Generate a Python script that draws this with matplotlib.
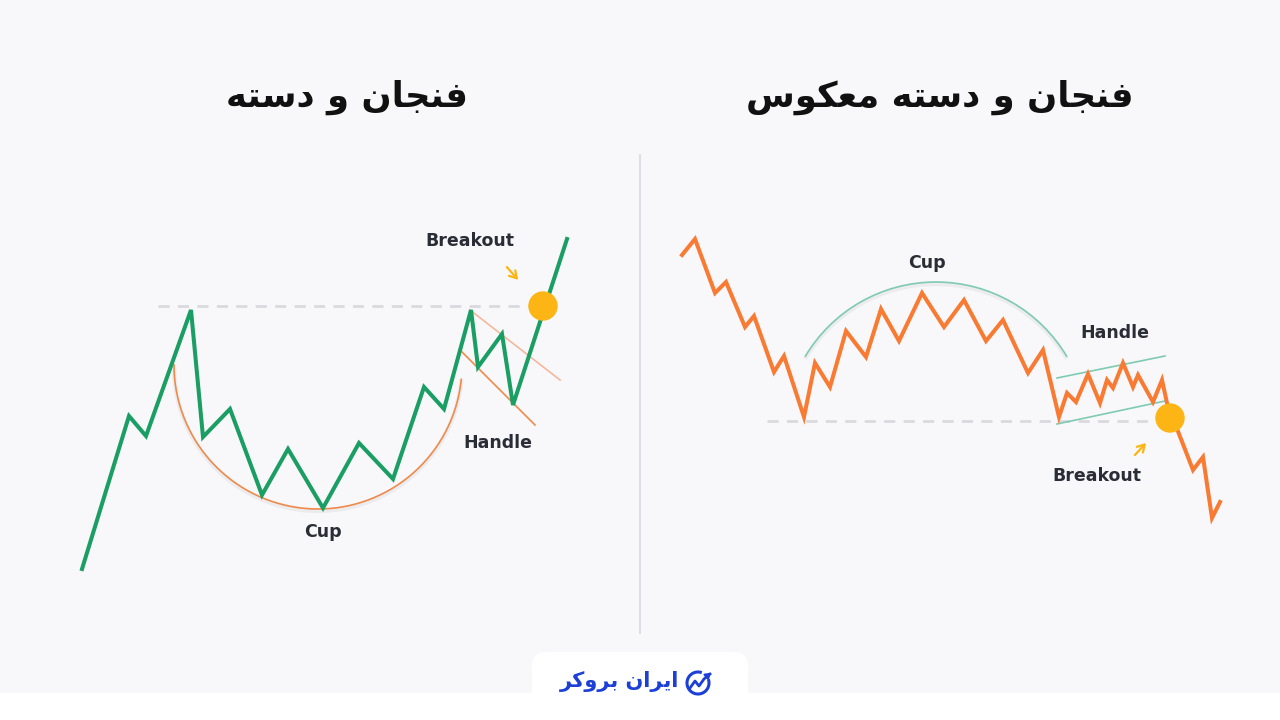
import matplotlib.pyplot as plt
import numpy as np
from matplotlib.patches import FancyBboxPatch, Circle, Arc

# ---- data (pixel space of the 1280x720 canvas, y grows downward) ----
# left panel: cup and handle (green price line)
cup_x = [82, 129, 146, 191, 203, 230, 262, 288, 323, 359, 393, 424, 444, 471, 478, 502, 513, 567]
cup_y = [569, 416, 436, 310, 437, 409, 495, 449, 508, 443, 479, 387, 409, 310, 367, 334, 405, 239]

# right panel: inverted cup and handle (orange price line)
inv_x = [682, 695, 715, 726, 745, 754, 774, 784, 804, 815, 830, 846, 866, 881, 899, 922, 944, 964,
         986, 1003, 1028, 1043, 1059, 1067, 1076, 1088, 1100, 1107, 1113, 1123, 1133, 1138, 1153,
         1162, 1167, 1193, 1203, 1212, 1220]
inv_y = [255, 239, 293, 282, 327, 316, 372, 356, 417, 363, 387, 331, 357, 309, 341, 293, 327, 300,
         341, 320, 373, 350, 417, 393, 402, 374, 403, 380, 388, 363, 387, 375, 402,
         380, 403, 470, 457, 518, 502]

# resistance / support levels
left_level_y = 306
right_level_y = 421

# titles (Persian)
title_left = "\uFEEA\uFE98\uFEB3\uFEA9 \uFEED \uFEE5\uFE8E\uFEA0\uFEE8\uFED3"          # فنجان و دسته
title_right = "\uFEB1\uFEEE\uFB91\uFECC\uFEE3 " + title_left                          # فنجان و دسته معکوس
logo_text = "\uFEAE\uFB90\uFEED\uFEAE\uFE91 \uFEE5\uFE8D\uFEAE\uFBFE\uFE8D"            # ایران بروکر

GREEN = "#1b9e63"
ORANGE = "#f97a32"
ARC_OR = "#f08a4b"
MINT = "#7fcbb2"
GOLD = "#fdb515"
GRAY = "#dadade"
TXT = "#2a2d35"
BG = "#f8f8fa"

fig = plt.figure(figsize=(12.8, 7.2), dpi=100, facecolor=BG)
ax = fig.add_axes([0, 0, 1, 1])
ax.set_xlim(0, 1280)
ax.set_ylim(720, 0)
ax.axis("off")
ax.set_facecolor(BG)

# bottom white strip + logo tab
ax.add_patch(plt.Rectangle((0, 693), 1280, 30, color="white", zorder=1))
ax.add_patch(FancyBboxPatch((547, 667), 186, 40, boxstyle="round,pad=15", fc="white", ec="none", zorder=1))

# divider
ax.plot([640, 640], [155, 633], color="#dcdce0", lw=1.3, zorder=1)

# titles
ax.text(347, 97, title_left, ha="center", va="center", fontsize=25.5, fontweight="bold",
        color="#111111", family=["DejaVu Sans"])
ax.text(940, 97, title_right, ha="center", va="center", fontsize=25.5, fontweight="bold",
        color="#111111", family=["DejaVu Sans"])

# ---------- left panel ----------
ax.plot([158, 530], [left_level_y, left_level_y], color=GRAY, lw=2, dashes=(4, 3), zorder=2)
t = np.linspace(np.pi, 2 * np.pi - 0.1, 200)
cx, cy, r = 318, 365, 144
ax.plot(cx + r * np.cos(t), cy - r * np.sin(t) + 2, color="#e4e4e8", lw=3, alpha=0.6, zorder=2)
ax.plot(cx + r * np.cos(t), cy - r * np.sin(t), color=ARC_OR, lw=1.2, zorder=3)
ax.plot([462, 535], [352, 425], color=ARC_OR, lw=1.2, zorder=3)
ax.plot([470, 560], [310, 380], color="#f6b79b", lw=1.2, zorder=3)
ax.plot(cup_x, cup_y, color=GREEN, lw=2.9, solid_joinstyle="miter", zorder=4)
ax.add_patch(Circle((543, 306), 14, color=GOLD, zorder=5))
ax.annotate("", xy=(520, 282), xytext=(505, 265),
            arrowprops=dict(arrowstyle="->,head_length=0.5,head_width=0.3", color=GOLD, lw=1.6))
ax.text(470, 241, "Breakout", ha="center", va="center", fontsize=12.5, fontweight="bold", color=TXT)
ax.text(498, 443, "Handle", ha="center", va="center", fontsize=12.5, fontweight="bold", color=TXT)
ax.text(323, 532, "Cup", ha="center", va="center", fontsize=12.5, fontweight="bold", color=TXT)

# ---------- right panel ----------
ax.plot([767, 1158], [right_level_y, right_level_y], color=GRAY, lw=2, dashes=(4, 3), zorder=2)
ax.add_patch(Arc((936, 434), 304, 304, theta1=210.5, theta2=329.5, color="#e4e4e8", lw=3,
                 alpha=0.6, zorder=2, transform=ax.transData + plt.matplotlib.transforms.Affine2D().translate(0, -2)))
ax.add_patch(Arc((936, 434), 304, 304, theta1=210.5, theta2=329.5, color=MINT, lw=1.2, zorder=3))
ax.plot([1057, 1165], [378, 356], color=MINT, lw=1.2, zorder=3)
ax.plot([1057, 1165], [424, 401], color=MINT, lw=1.2, zorder=3)
ax.plot(inv_x, inv_y, color=ORANGE, lw=2.9, solid_joinstyle="miter", zorder=4)
ax.add_patch(Circle((1170, 418), 14, color=GOLD, zorder=5))
ax.annotate("", xy=(1148, 441), xytext=(1133, 457),
            arrowprops=dict(arrowstyle="->,head_length=0.5,head_width=0.3", color=GOLD, lw=1.6))
ax.text(927, 263, "Cup", ha="center", va="center", fontsize=12.5, fontweight="bold", color=TXT)
ax.text(1115, 333, "Handle", ha="center", va="center", fontsize=12.5, fontweight="bold", color=TXT)
ax.text(1097, 476, "Breakout", ha="center", va="center", fontsize=12.5, fontweight="bold", color=TXT)

# ---------- logo ----------
BLUE = "#1c3fd8"
ax.text(620, 682, logo_text, ha="center", va="center", fontsize=15, fontweight="bold",
        color=BLUE, family=["DejaVu Sans"], zorder=6)
ax.add_patch(Arc((698, 683), 22, 22, theta1=340, theta2=290, color=BLUE, lw=2.2, zorder=6))
ax.plot([690, 695, 699, 704, 710], [688, 681, 686, 679, 674], color=BLUE, lw=2, zorder=6)
ax.annotate("", xy=(713, 671), xytext=(706, 677),
            arrowprops=dict(arrowstyle="-|>,head_length=0.3,head_width=0.2", color=BLUE, lw=1.5), zorder=6)

fig.savefig("out.png", dpi=100, facecolor=BG)
